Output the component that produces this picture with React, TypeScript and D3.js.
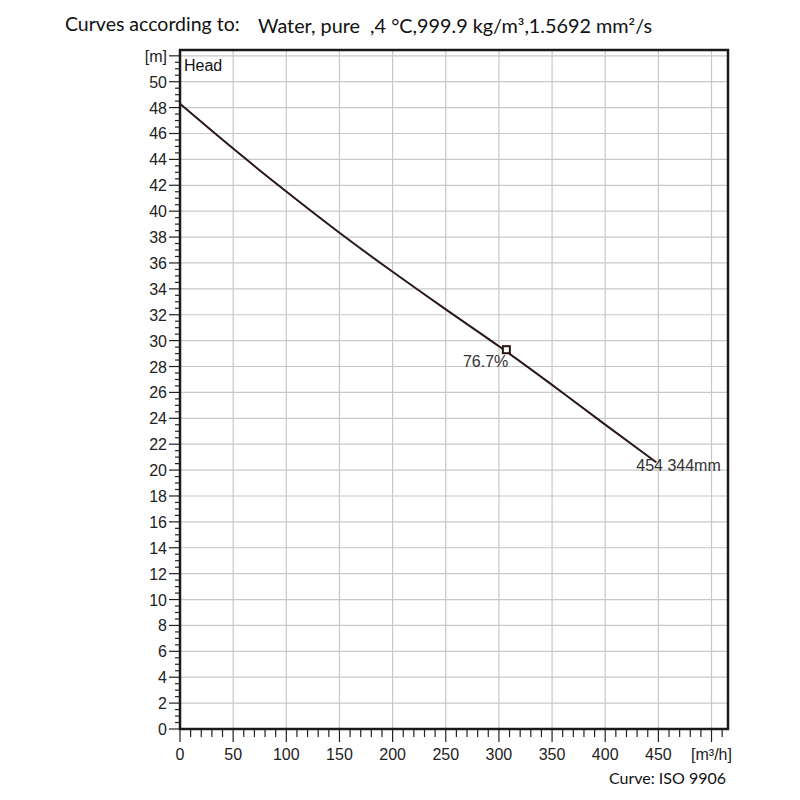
import React from "react";
import * as d3 from "d3";

const flow = [0, 50, 100, 150, 200, 250, 300, 350, 400, 448];
const head = [48.3, 44.8, 41.5, 38.3, 35.3, 32.4, 29.6, 26.6, 23.5, 20.6];
const dutyPoint = { q: 307, h: 29.3, label: "76.7%" };
const endLabel = "454 344mm";
const yMajorTicks = d3.range(0, 53, 2);
const yMinorTicks = d3.range(0, 52.01, 0.5);
const xMajorTicks = d3.range(0, 501, 50);
const xMinorTicks = d3.range(0, 511, 10);
const titleLeft = "Curves according to:";
const titleRight = "Water, pure\u00a0\u00a0,4 °C,999.9 kg/m³,1.5692 mm²/s";
const footer = "Curve: ISO 9906";

const X0 = 180, X1 = 728;
const Y0 = 729, Y1 = 50;
const xMax = 515.5, yMax = 52.45;

export default function App() {
  const x = d3.scaleLinear().domain([0, xMax]).range([X0, X1]);
  const y = d3.scaleLinear().domain([0, yMax]).range([Y0, Y1]);
  const pts = flow.map((q, i) => [q, head[i]] as [number, number]);
  const line = d3.line<[number, number]>().x(d => x(d[0])).y(d => y(d[1])).curve(d3.curveBasis);
  const last = pts[pts.length - 1];
  const arial = "'Liberation Sans', Arial, sans-serif";
  const cal = "Lato, 'Open Sans', sans-serif";
  return (
    <svg width={800} height={800} style={{ position: "absolute", left: 0, top: 0, background: "#fff" }}>
      <rect x={0} y={0} width={800} height={800} fill="#fff" />
      <text x={65} y={31} fontFamily={cal} fontSize={19.5} fill="#111">{titleLeft}</text>
      <text x={258} y={33} fontFamily={cal} fontSize={18.5} fill="#111" textLength={394} lengthAdjust="spacingAndGlyphs">{titleRight}</text>
      {/* grid */}
      {xMajorTicks.filter(t => t > 0).map(t => (
        <line key={"gx" + t} x1={x(t)} x2={x(t)} y1={Y0} y2={Y1} stroke="#c8c8c8" strokeWidth={1.2} />
      ))}
      {yMajorTicks.filter(t => t > 0).map(t => (
        <line key={"gy" + t} x1={X0} x2={X1} y1={y(t)} y2={y(t)} stroke="#c8c8c8" strokeWidth={1.2} />
      ))}
      {/* y ticks */}
      {yMinorTicks.map(t => (
        <line key={"ym" + t} x1={X0} x2={X0 - (t % 2 === 0 ? 11 : 5)} y1={y(t)} y2={y(t)} stroke="#222" strokeWidth={1.2} />
      ))}
      {yMajorTicks.map(t => (
        <text key={"yl" + t} x={167} y={y(t) + 6} textAnchor="end" fontFamily={arial} fontSize={16} fill="#222">
          {t === 52 ? "[m]" : String(t)}
        </text>
      ))}
      {/* x ticks */}
      {xMinorTicks.map(t => (
        <line key={"xm" + t} x1={x(t)} x2={x(t)} y1={Y0} y2={Y0 + (t % 50 === 0 ? 13 : 8)} stroke="#222" strokeWidth={1.2} />
      ))}
      {xMajorTicks.map(t => (
        <text key={"xl" + t} x={x(t)} y={760} textAnchor="middle" fontFamily={arial} fontSize={16} fill="#222">
          {t === 500 ? "[m³/h]" : String(t)}
        </text>
      ))}
      {/* frame */}
      <rect x={X0} y={Y1} width={X1 - X0} height={Y0 - Y1} fill="none" stroke="#1a1a1a" strokeWidth={2.5} />
      <text x={184} y={71} fontFamily={arial} fontSize={16} fill="#111">Head</text>
      {/* curve */}
      <path d={line(pts) || ""} fill="none" stroke="#2a1616" strokeWidth={2} />
      <rect x={x(dutyPoint.q) - 3.5} y={y(dutyPoint.h) - 3.5} width={7} height={7} fill="#fff" stroke="#2a1616" strokeWidth={2} />
      <text x={x(dutyPoint.q) + 2} y={y(dutyPoint.h) + 17} textAnchor="end" fontFamily={arial} fontSize={16} fill="#333">
        {dutyPoint.label}
      </text>
      <text x={x(last[0]) - 20} y={y(last[1]) + 9} fontFamily={arial} fontSize={16} fill="#333">{endLabel}</text>
      <text x={726} y={784} textAnchor="end" fontFamily={cal} fontSize={16} fill="#111">{footer}</text>
    </svg>
  );
}
